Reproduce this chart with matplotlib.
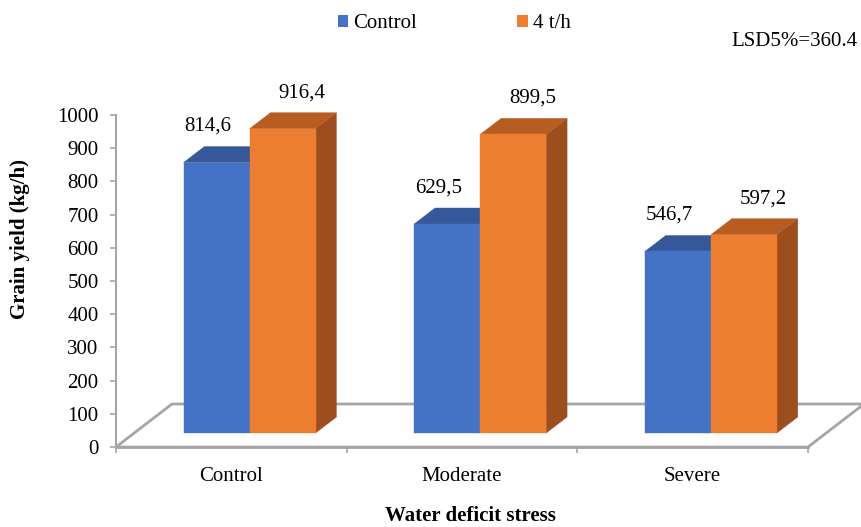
import matplotlib
matplotlib.use("Agg")
import matplotlib.pyplot as plt
from matplotlib.patches import Polygon, Patch

# ---- data ----
categories = ["Control", "Moderate", "Severe"]
series_names = ["Control", "4 t/h"]
control_vals = [814.6, 629.5, 546.7]
treated_vals = [916.4, 899.5, 597.2]
value_labels = [["814,6", "629,5", "546,7"], ["916,4", "899,5", "597,2"]]
y_ticks = list(range(0, 1001, 100))
lsd_text = "LSD5%=360.4"

# ---- style ----
FONT = "Liberation Serif"
plt.rcParams["font.family"] = [FONT, "DejaVu Serif"]
FS = 15
GRID_GRAY = "#A6A6A6"
face_colors = [
    {"front": "#4472C4", "top": "#34589A", "side": "#2F5597"},
    {"front": "#ED7D31", "top": "#B85D22", "side": "#9C4E1F"},
]

W, H = 861, 527
fig = plt.figure(figsize=(W / 100, H / 100), dpi=100)

# plot area in pixels: y axis at x=116, value 0 at y=447, value 1000 at y=115
left_px, right_px, bot_px, top_px = 116, 808, 447, 115
ax = fig.add_axes([left_px / W, 1 - bot_px / H,
                   (right_px - left_px) / W, (bot_px - top_px) / H])
ax.set_xlim(0, 3)
ax.set_ylim(0, 1000)

px_x = (right_px - left_px) / 3.0     # pixels per category unit
px_y = (bot_px - top_px) / 1000.0     # pixels per value unit

# oblique depth of the floor (full depth)
floor_dx = 56 / px_x
floor_dy = 43 / px_y

def proj(x, y, z):
    return (x + z * floor_dx, y + z * floor_dy)

# floor
floor = Polygon([proj(0, 0, 0), proj(3, 0, 0), proj(3, 0, 1), proj(0, 0, 1)],
                closed=True, facecolor="white", edgecolor=GRID_GRAY,
                linewidth=2.0, clip_on=False, zorder=1)
ax.add_patch(floor)

# bars
z0, z1 = 14 / 43, 30 / 43
bar_w = 66 / px_x
series = [control_vals, treated_vals]
label_dx_pt = [-6.5, 14]
zo = 2
for i in range(len(categories)):
    for s, vals in enumerate(series):
        v = vals[i]
        xl = i + 0.5 - bar_w + s * bar_w
        xr = xl + bar_w
        c = face_colors[s]
        front = [proj(xl, 0, z0), proj(xr, 0, z0), proj(xr, v, z0), proj(xl, v, z0)]
        top = [proj(xl, v, z0), proj(xr, v, z0), proj(xr, v, z1), proj(xl, v, z1)]
        side = [proj(xr, 0, z0), proj(xr, 0, z1), proj(xr, v, z1), proj(xr, v, z0)]
        for pts, col in ((side, c["side"]), (top, c["top"]), (front, c["front"])):
            ax.add_patch(Polygon(pts, closed=True, facecolor=col, edgecolor=col,
                                 linewidth=0.3, clip_on=False, zorder=zo))
            zo += 1
        # value label above the back edge of the bar top
        cx = proj((xl + xr) / 2, v, z0)[0]
        ty = proj(0, v, z1)[1]
        ax.annotate(value_labels[s][i], xy=(cx, ty),
                    xytext=(label_dx_pt[s], 14.5), textcoords="offset points",
                    ha="center", va="center", fontsize=FS, color="black",
                    family=[FONT, "DejaVu Serif"],
                    annotation_clip=False, zorder=100)

# axes styling
for side in ("top", "right", "bottom"):
    ax.spines[side].set_visible(False)
ax.spines["left"].set_color(GRID_GRAY)
ax.spines["left"].set_linewidth(1.5)
ax.plot([0, 3], [0, 0], color=GRID_GRAY, lw=2.0, clip_on=False, zorder=1.5)

ax.set_yticks(y_ticks)
ax.set_yticklabels([str(t) for t in y_ticks])
ax.tick_params(axis="y", direction="out", length=4.5, width=1.2,
               color=GRID_GRAY, pad=8, labelsize=FS)

ax.set_xticks([0, 1, 2, 3])
ax.set_xticklabels([])
ax.tick_params(axis="x", which="major", direction="out", length=4.5,
               width=1.2, color=GRID_GRAY)
ax.set_xticks([0.5, 1.5, 2.5], minor=True)
ax.set_xticklabels(categories, minor=True)
ax.tick_params(axis="x", which="minor", length=0, pad=14.5, labelsize=FS)
ax.patch.set_visible(False)

# axis titles
fig.text(20 / W, 1 - 239 / H, "Grain yield (kg/h)", rotation=90,
         ha="center", va="center", fontsize=FS, fontweight="bold",
         family=[FONT, "DejaVu Serif"])
fig.text(470 / W, 1 - 516 / H, "Water deficit stress",
         ha="center", va="center", fontsize=FS, fontweight="bold",
         family=[FONT, "DejaVu Serif"])

# legend
handles = [Patch(facecolor=face_colors[k]["front"], edgecolor="none")
           for k in range(2)]
fig.legend(handles, series_names, loc="center left",
           bbox_to_anchor=(338 / W, 1 - 24 / H), ncol=2, frameon=False,
           prop={"family": [FONT, "DejaVu Serif"], "size": FS},
           handlelength=0.5, handleheight=0.5,
           handletextpad=0.25, columnspacing=4.8, borderpad=0,
           borderaxespad=0)

fig.text(858 / W, 1 - 41 / H, lsd_text, ha="right", va="center", fontsize=FS,
         family=[FONT, "DejaVu Serif"])

fig.savefig("out.png", dpi=100)
